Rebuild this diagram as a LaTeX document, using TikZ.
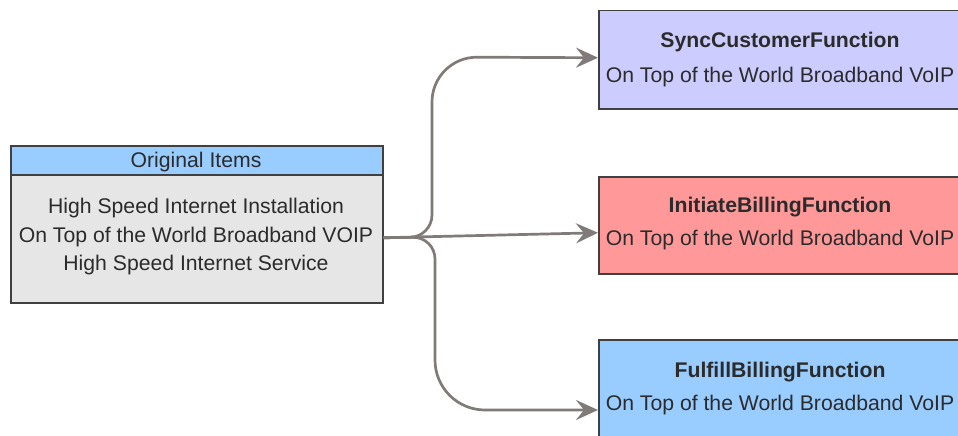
\documentclass[tikz,border=0pt]{standalone}
\usepackage{fontspec}
\setmainfont{Liberation Sans}
\usetikzlibrary{arrows.meta}
\definecolor{hdrblue}{HTML}{99CCFF}
\definecolor{bodygray}{HTML}{E6E6E6}
\definecolor{lav}{HTML}{CCCCFF}
\definecolor{pinkred}{HTML}{FF9999}
\definecolor{edgecol}{HTML}{404040}
\definecolor{arrcol}{HTML}{807A78}
\definecolor{txtcol}{HTML}{2B2B2B}
\tikzset{
  box/.style={draw=edgecol, line width=1.5pt, rectangle, inner sep=0pt, anchor=north west},
  txt/.style={font=\fontsize{21.2}{24}\selectfont, text=txtcol, inner sep=0pt, anchor=base},
  btxt/.style={txt, font=\fontsize{21.2}{24}\selectfont\bfseries},
  conn/.style={draw=arrcol, line width=2.7pt, -{Stealth[length=22pt,width=20pt,inset=8pt]}},
}
\begin{document}
\begin{tikzpicture}[x=1pt,y=-1pt]
\clip (0,0) rectangle (958,436);
\fill[white] (0,0) rectangle (958,436);
% left box
\node[box, fill=bodygray, minimum width=372pt, minimum height=157pt] (orig) at (10,145) {};
\node[box, fill=hdrblue, minimum width=372pt, minimum height=29pt] (hdr) at (10,145) {};
\node[txt] (hdrt) at (196,167) {Original Items};
\node[txt] (l1) at (196,213) {High Speed Internet Installation};
\node[txt] (l2) at (196,242) {On Top of the World Broadband VOIP};
\node[txt] (l3) at (196,270.5) {High Speed Internet Service};
% right boxes
\node[box, fill=lav, minimum width=364pt, minimum height=98pt] (sync) at (598,10) {};
\node[btxt] (synct) at (780,47.5) {SyncCustomerFunction};
\node[txt] (syncs) at (780,82) {On Top of the World Broadband VoIP};
\node[box, fill=pinkred, minimum width=364pt, minimum height=97pt] (init) at (598,176) {};
\node[btxt] (initt) at (780,212.5) {InitiateBillingFunction};
\node[txt] (inits) at (780,245) {On Top of the World Broadband VoIP};
\node[box, fill=hdrblue, minimum width=364pt, minimum height=110pt] (ful) at (598,339) {};
\node[btxt] (fult) at (780,377.5) {FulfillBillingFunction};
\node[txt] (fuls) at (780,410) {On Top of the World Broadband VoIP};
% connectors
\coordinate (src) at ([yshift=-13.5pt]orig.east);
\draw[conn] (src) [rounded corners=22pt] -- (432,237) [rounded corners=45pt] -- (432,57) -- ([yshift=2pt]sync.west);
\draw[conn] (src) -- ([yshift=-7.5pt]init.west);
\draw[conn] (src) [rounded corners=22pt] -- (435,237) [rounded corners=50pt] -- (435,410) -- (ful.west |- 0,410);
\end{tikzpicture}
\end{document}
